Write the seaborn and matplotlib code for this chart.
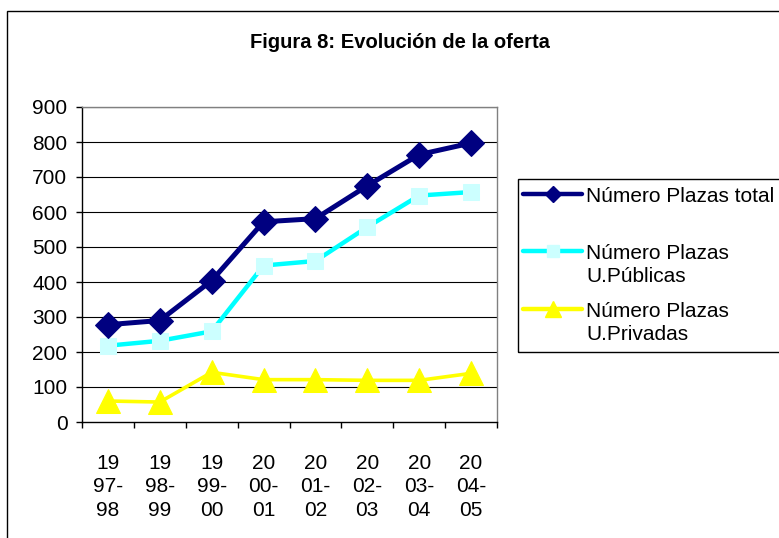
import numpy as np
import pandas as pd
import matplotlib
matplotlib.use("Agg")
import matplotlib.pyplot as plt
from matplotlib.lines import Line2D
from matplotlib.patches import Rectangle
import seaborn as sns

categories = ["19\n97-\n98", "19\n98-\n99", "19\n99-\n00", "20\n00-\n01",
              "20\n01-\n02", "20\n02-\n03", "20\n03-\n04", "20\n04-\n05"]
total = [278, 290, 404, 572, 581, 675, 764, 797]
publicas = [218, 232, 259, 447, 460, 557, 647, 657]
privadas = [60, 57, 142, 121, 121, 119, 119, 139]
series_names = ["Número Plazas total", "Número Plazas\nU.Públicas", "Número Plazas\nU.Privadas"]
yticks = list(range(0, 901, 100))

sns.set_theme(style="white")
plt.rcParams['font.family'] = ['Liberation Sans', 'DejaVu Sans']
for k in ["text.color", "axes.labelcolor", "xtick.color", "ytick.color"]:
    plt.rcParams[k] = "black"

W, H = 779, 538
fig = plt.figure(figsize=(W / 100, H / 100), dpi=100)
fig.patch.set_facecolor("white")

def fx(px):
    return px / W

def fy(py):
    return 1 - py / H

ax = fig.add_axes([fx(82), fy(422), fx(497) - fx(82), fy(107) - fy(422)])

x = np.arange(len(categories))
df = pd.DataFrame({"x": x, "total": total, "pub": publicas, "priv": privadas})

sns.lineplot(data=df, x="x", y="total", ax=ax, color="#000080", lw=3.6,
             marker="D", markersize=13, markeredgecolor="#000080",
             markerfacecolor="#000080", zorder=5)
sns.lineplot(data=df, x="x", y="pub", ax=ax, color="#00FFFF", lw=3.2,
             marker="s", markersize=11, markeredgecolor="#CCFFFF",
             markerfacecolor="#CCFFFF", zorder=4)
sns.lineplot(data=df, x="x", y="priv", ax=ax, color="#FFFF00", lw=2.6,
             marker="^", markersize=17, markeredgecolor="#FFFF00",
             markerfacecolor="#FFFF00", zorder=3)

FS = 15
ax.set_xlim(-0.5, len(categories) - 0.5)
ax.set_ylim(0, 900)
ax.set_yticks(yticks)
ax.set_yticklabels([str(v) for v in yticks], fontsize=FS)
ax.set_xticks(x)
ax.set_xticklabels(categories, fontsize=FS, linespacing=1.3)
ax.set_xticks(np.arange(-0.5, len(categories)), minor=True)
ax.tick_params(axis="x", which="major", length=0, pad=23, colors="black")
ax.tick_params(axis="x", which="minor", length=4.5, width=1, color="black", direction="out", bottom=True)
ax.tick_params(axis="y", length=4.5, width=1, color="black", direction="out", left=True, pad=6)
ax.set_xlabel("")
ax.set_ylabel("")
for v in yticks[1:]:
    ax.axhline(v, color="black", lw=0.8, zorder=1)
for s in ["left", "bottom"]:
    ax.spines[s].set_color("black")
    ax.spines[s].set_linewidth(1)
for s in ["top", "right"]:
    ax.spines[s].set_color("#808080")
    ax.spines[s].set_linewidth(1)

fig.text(fx(400), fy(43), "Figura 8: Evolución de la oferta", ha="center", va="center",
         fontsize=14.5, fontweight="bold", color="black")

# outer frame
fig.add_artist(Rectangle((fx(7), fy(600)), fx(900), fy(11) - fy(600), fill=False,
                         edgecolor="black", lw=1, transform=fig.transFigure))

# legend box
fig.add_artist(Rectangle((fx(518), fy(352)), fx(400), fy(179) - fy(352), fill=False,
                         edgecolor="black", lw=1, transform=fig.transFigure))
leg_specs = [
    (194, 196, "#000080", "D", 8, "#000080", 3.2),
    (251, 265, "#00FFFF", "s", 9, "#CCFFFF", 3.2),
    (309, 323, "#FFFF00", "^", 11, "#FFFF00", 3.2),
]
for (yl, yt, col, mk, ms, mfc, lw), name in zip(leg_specs, series_names):
    fig.add_artist(Line2D([fx(523), fx(582)], [fy(yl), fy(yl)], color=col, lw=lw,
                          transform=fig.transFigure, solid_capstyle="round"))
    fig.add_artist(Line2D([fx(553)], [fy(yl)], marker=mk, markersize=ms, color=mfc,
                          markeredgecolor=mfc, transform=fig.transFigure))
    fig.text(fx(586), fy(yt), name, ha="left", va="center", fontsize=FS,
             linespacing=1.3, color="black")

fig.savefig("out.png", dpi=100)
